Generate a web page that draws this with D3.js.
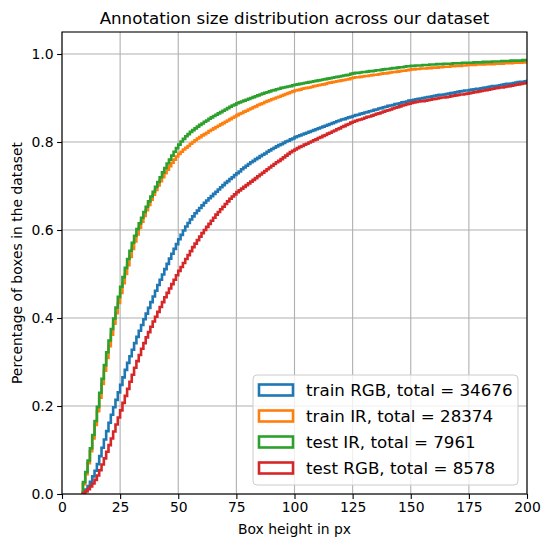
<!DOCTYPE html>
<html>
<head>
<meta charset="utf-8">
<script src="https://cdn.jsdelivr.net/npm/d3@7"></script>
<style>
  body { margin: 0; background: #fff; }
  text { font-family: "DejaVu Sans", sans-serif; fill: #000; }
</style>
</head>
<body>
<div id="chart"></div>
<script>
// cumulative share of boxes, one value per 1px height bin, bins start at 9px
var trainRGB = [
  0.004,0.010,0.018,0.028,0.040,0.053,0.068,0.086,0.105,0.124,0.143,0.162,
  0.180,0.197,0.214,0.231,0.248,0.265,0.282,0.298,0.313,0.328,0.343,0.357,
  0.371,0.384,0.397,0.410,0.423,0.436,0.449,0.462,0.475,0.487,0.499,0.511,
  0.523,0.535,0.546,0.557,0.568,0.579,0.589,0.599,0.608,0.616,0.624,0.631,
  0.638,0.644,0.650,0.656,0.662,0.667,0.672,0.677,0.682,0.687,0.692,0.697,
  0.702,0.707,0.711,0.716,0.720,0.725,0.729,0.733,0.738,0.742,0.746,0.750,
  0.754,0.757,0.761,0.764,0.768,0.771,0.774,0.778,0.781,0.784,0.787,0.790,
  0.793,0.795,0.798,0.801,0.803,0.806,0.808,0.811,0.813,0.815,0.817,0.819,
  0.821,0.823,0.825,0.827,0.829,0.831,0.833,0.835,0.837,0.839,0.841,0.843,
  0.845,0.847,0.849,0.851,0.852,0.854,0.856,0.857,0.859,0.861,0.862,0.864,
  0.865,0.867,0.868,0.870,0.871,0.873,0.874,0.876,0.877,0.879,0.880,0.882,
  0.883,0.884,0.886,0.887,0.888,0.890,0.891,0.892,0.894,0.895,0.896,0.897,
  0.898,0.899,0.900,0.901,0.902,0.903,0.904,0.905,0.906,0.907,0.907,0.908,
  0.909,0.910,0.911,0.912,0.913,0.914,0.915,0.916,0.917,0.917,0.918,0.919,
  0.920,0.921,0.921,0.922,0.923,0.924,0.925,0.926,0.927,0.927,0.928,0.929,
  0.930,0.931,0.932,0.932,0.933,0.934,0.935,0.936,0.937,0.937,0.938,0.939
]
var trainIR = [
  0.022,0.045,0.070,0.097,0.126,0.157,0.188,0.219,0.250,0.280,0.309,0.336,
  0.362,0.387,0.411,0.434,0.457,0.479,0.500,0.520,0.539,0.557,0.574,0.590,
  0.605,0.619,0.632,0.645,0.657,0.669,0.680,0.691,0.701,0.711,0.720,0.729,
  0.737,0.745,0.753,0.760,0.767,0.773,0.778,0.783,0.787,0.791,0.796,0.800,
  0.804,0.808,0.811,0.815,0.818,0.821,0.825,0.828,0.831,0.834,0.837,0.840,
  0.843,0.846,0.849,0.852,0.855,0.858,0.861,0.864,0.866,0.869,0.871,0.874,
  0.876,0.879,0.881,0.884,0.886,0.888,0.891,0.893,0.895,0.897,0.899,0.901,
  0.903,0.905,0.907,0.909,0.911,0.913,0.915,0.917,0.918,0.919,0.921,0.922,
  0.923,0.924,0.925,0.927,0.928,0.929,0.930,0.931,0.932,0.934,0.935,0.936,
  0.937,0.938,0.939,0.940,0.941,0.942,0.943,0.945,0.946,0.947,0.947,0.948,
  0.949,0.950,0.950,0.951,0.952,0.953,0.953,0.954,0.955,0.956,0.956,0.957,
  0.958,0.959,0.959,0.960,0.961,0.962,0.962,0.963,0.964,0.965,0.965,0.966,
  0.966,0.967,0.967,0.967,0.968,0.968,0.969,0.969,0.969,0.970,0.970,0.971,
  0.971,0.971,0.972,0.972,0.973,0.973,0.973,0.974,0.974,0.975,0.975,0.975,
  0.975,0.976,0.976,0.976,0.976,0.977,0.977,0.977,0.977,0.978,0.978,0.978,
  0.978,0.979,0.979,0.979,0.979,0.980,0.980,0.980,0.980,0.981,0.981,0.981
]
var testIR = [
  0.027,0.050,0.076,0.104,0.134,0.166,0.198,0.230,0.262,0.293,0.322,0.349,
  0.375,0.399,0.424,0.448,0.471,0.493,0.514,0.534,0.553,0.571,0.587,0.602,
  0.615,0.628,0.641,0.653,0.665,0.676,0.687,0.698,0.709,0.720,0.731,0.741,
  0.751,0.760,0.769,0.778,0.786,0.794,0.801,0.807,0.813,0.818,0.823,0.827,
  0.831,0.835,0.839,0.842,0.846,0.849,0.853,0.856,0.859,0.862,0.865,0.868,
  0.871,0.874,0.877,0.880,0.883,0.885,0.888,0.890,0.892,0.894,0.896,0.898,
  0.900,0.902,0.904,0.906,0.908,0.910,0.912,0.913,0.915,0.917,0.918,0.920,
  0.921,0.923,0.924,0.925,0.926,0.927,0.929,0.930,0.931,0.932,0.933,0.934,
  0.935,0.936,0.937,0.938,0.939,0.940,0.941,0.942,0.943,0.944,0.945,0.946,
  0.947,0.948,0.949,0.950,0.951,0.952,0.953,0.955,0.956,0.957,0.957,0.958,
  0.959,0.959,0.960,0.961,0.961,0.962,0.963,0.963,0.964,0.965,0.966,0.966,
  0.967,0.968,0.968,0.969,0.970,0.970,0.971,0.972,0.972,0.973,0.973,0.974,
  0.974,0.974,0.975,0.975,0.975,0.976,0.976,0.976,0.977,0.977,0.977,0.978,
  0.978,0.978,0.978,0.979,0.979,0.979,0.979,0.980,0.980,0.980,0.980,0.980,
  0.981,0.981,0.981,0.981,0.982,0.982,0.982,0.982,0.983,0.983,0.983,0.983,
  0.984,0.984,0.984,0.984,0.985,0.985,0.985,0.985,0.985,0.986,0.986,0.986
]
var testRGB = [
  0.002,0.006,0.011,0.017,0.024,0.032,0.042,0.054,0.067,0.081,0.096,0.111,
  0.126,0.142,0.158,0.174,0.190,0.207,0.223,0.239,0.255,0.271,0.287,0.302,
  0.316,0.330,0.343,0.356,0.368,0.380,0.392,0.403,0.414,0.425,0.436,0.447,
  0.457,0.467,0.477,0.487,0.497,0.507,0.516,0.525,0.534,0.543,0.552,0.561,
  0.569,0.577,0.585,0.593,0.600,0.607,0.614,0.621,0.628,0.635,0.641,0.647,
  0.653,0.659,0.665,0.671,0.676,0.681,0.686,0.690,0.694,0.698,0.702,0.706,
  0.710,0.714,0.718,0.722,0.726,0.730,0.734,0.738,0.742,0.746,0.750,0.754,
  0.757,0.761,0.765,0.769,0.773,0.777,0.780,0.783,0.786,0.789,0.791,0.794,
  0.796,0.799,0.801,0.804,0.806,0.809,0.811,0.814,0.816,0.819,0.821,0.824,
  0.826,0.829,0.831,0.834,0.836,0.839,0.841,0.844,0.846,0.848,0.850,0.851,
  0.853,0.855,0.857,0.858,0.860,0.862,0.864,0.865,0.867,0.869,0.871,0.872,
  0.874,0.876,0.878,0.879,0.881,0.883,0.884,0.886,0.887,0.889,0.890,0.891,
  0.892,0.893,0.893,0.894,0.895,0.896,0.897,0.898,0.899,0.900,0.901,0.901,
  0.902,0.903,0.904,0.905,0.906,0.907,0.908,0.908,0.909,0.910,0.911,0.912,
  0.913,0.914,0.915,0.916,0.917,0.918,0.919,0.920,0.921,0.922,0.923,0.924,
  0.924,0.925,0.926,0.927,0.928,0.929,0.930,0.931,0.932,0.933,0.934,0.935
]
var binStart = 9
var seriesNames = ["train RGB", "train IR", "test IR", "test RGB"]
var seriesTotals = [34676, 28374, 7961, 8578]
var seriesColors = ["#1f77b4", "#ff7f0e", "#2ca02c", "#d62728"]
var xTicks = [0, 25, 50, 75, 100, 125, 150, 175, 200]
var yTicks = [0, 0.2, 0.4, 0.6, 0.8, 1.0]

var W = 549, H = 547
// plot box (note: "top" is reserved on window, so use own names)
var pL = 62, pR = 527, pT = 32, pB = 494

var svg = d3.select("#chart")
  .append("svg")
  .attr("width", W)
  .attr("height", H)

var x = d3.scaleLinear().domain([0, 200]).range([pL, pR])
var y = d3.scaleLinear().domain([0, 1.05]).range([pB, pT])

svg.append("defs").append("clipPath")
  .attr("id", "plotclip")
  .append("rect")
  .attr("x", pL).attr("y", pT)
  .attr("width", pR - pL).attr("height", pB - pT)

// grid
var grid = svg.append("g")
grid.selectAll(".gx").data(xTicks).enter().append("line")
  .attr("x1", function(d){ return x(d) }).attr("x2", function(d){ return x(d) })
  .attr("y1", pT).attr("y2", pB)
  .attr("stroke", "#b0b0b0").attr("stroke-width", 1.1)
grid.selectAll(".gy").data(yTicks).enter().append("line")
  .attr("x1", pL).attr("x2", pR)
  .attr("y1", function(d){ return y(d) }).attr("y2", function(d){ return y(d) })
  .attr("stroke", "#b0b0b0").attr("stroke-width", 1.1)

// step curves
var allSeries = [trainRGB, trainIR, testIR, testRGB]
var stepLine = d3.line()
  .x(function(d){ return x(d[0]) })
  .y(function(d){ return y(d[1]) })
  .curve(d3.curveStepAfter)

var curves = svg.append("g").attr("clip-path", "url(#plotclip)")
allSeries.forEach(function(values, i){
  var pts = [[binStart, 0]]
  values.forEach(function(v, j){ pts.push([binStart + j, v]) })
  pts.push([binStart + values.length, values[values.length - 1]])
  curves.append("path")
    .attr("d", stepLine(pts))
    .attr("fill", "none")
    .attr("stroke", seriesColors[i])
    .attr("stroke-width", 2.6)
})

// axes
var xAxis = svg.append("g")
  .attr("transform", "translate(0," + pB + ")")
  .call(d3.axisBottom(x).tickValues(xTicks).tickSize(4.9).tickPadding(3.5).tickFormat(d3.format("d")))
var yAxis = svg.append("g")
  .attr("transform", "translate(" + pL + ",0)")
  .call(d3.axisLeft(y).tickValues(yTicks).tickSize(4.9).tickPadding(3.5).tickFormat(d3.format(".1f")))
;[xAxis, yAxis].forEach(function(a){
  a.select(".domain").remove()
  a.selectAll("line").attr("stroke", "#000").attr("stroke-width", 1.1)
  a.selectAll("text").style("font-family", "DejaVu Sans").style("font-size", "13.9px").attr("fill", "#000")
})

svg.append("rect")
  .attr("x", pL).attr("y", pT)
  .attr("width", pR - pL).attr("height", pB - pT)
  .attr("fill", "none").attr("stroke", "#000").attr("stroke-width", 1.1)

// titles
svg.append("text")
  .attr("x", (pL + pR) / 2).attr("y", 24)
  .attr("text-anchor", "middle")
  .style("font-size", "16.7px")
  .text("Annotation size distribution across our dataset")
svg.append("text")
  .attr("x", (pL + pR) / 2).attr("y", 534)
  .attr("text-anchor", "middle")
  .style("font-size", "13.9px")
  .text("Box height in px")
svg.append("text")
  .attr("transform", "translate(22," + ((pT + pB) / 2) + ") rotate(-90)")
  .attr("text-anchor", "middle")
  .style("font-size", "13.9px")
  .text("Percentage of boxes in the dataset")

// legend
var legend = svg.append("g")
legend.append("rect")
  .attr("x", 253).attr("y", 375)
  .attr("width", 265).attr("height", 110)
  .attr("rx", 4)
  .attr("fill", "#fff").attr("fill-opacity", 0.8)
  .attr("stroke", "#cccccc").attr("stroke-width", 1)
seriesNames.forEach(function(name, i){
  var cy = 390 + i * 26
  legend.append("rect")
    .attr("x", 259).attr("y", cy - 5.5)
    .attr("width", 34).attr("height", 11)
    .attr("fill", "none")
    .attr("stroke", seriesColors[i]).attr("stroke-width", 2.6)
  legend.append("text")
    .attr("x", 306).attr("y", cy + 6)
    .style("font-size", "16.7px")
    .text(name + ", total = " + seriesTotals[i])
})
</script>
</body>
</html>
